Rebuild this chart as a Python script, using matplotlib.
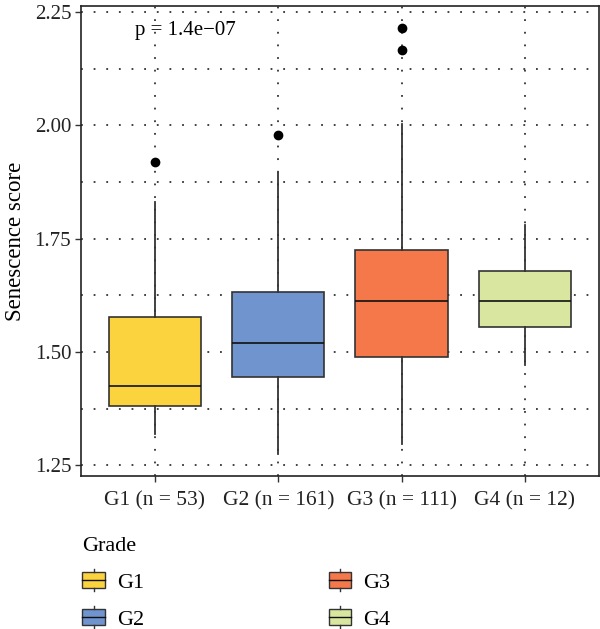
import matplotlib.pyplot as plt
from matplotlib.legend_handler import HandlerBase
from matplotlib.patches import Rectangle
from matplotlib.lines import Line2D
from matplotlib.ticker import MultipleLocator

plt.rcParams['font.family'] = ['Liberation Serif', 'DejaVu Serif']

# values
grades = ["G1", "G2", "G3", "G4"]
counts = [53, 161, 111, 12]
whislo = [1.318, 1.274, 1.296, 1.471]
q1 = [1.381, 1.444, 1.489, 1.555]
med = [1.426, 1.519, 1.612, 1.612]
q3 = [1.577, 1.633, 1.725, 1.678]
whishi = [1.831, 1.894, 2.004, 1.780]
fliers = [[1.920], [1.980], [2.216, 2.167], []]
colors = ["#FBD33E", "#7094CD", "#F5784A", "#D8E6A0"]
p_label = "p = 1.4e\u221207"

edge = "#333333"

fig = plt.figure(figsize=(6, 6.29), dpi=100)
ax = fig.add_axes([0.135, 0.243, 0.863, 0.747])

stats = []
for i in range(len(grades)):
    stats.append(dict(whislo=whislo[i], q1=q1[i], med=med[i], q3=q3[i],
                      whishi=whishi[i], fliers=fliers[i]))

positions = list(range(1, len(grades) + 1))
bp = ax.bxp(stats, positions=positions, widths=0.75, patch_artist=True,
            showcaps=False,
            boxprops=dict(edgecolor=edge, linewidth=1.2),
            whiskerprops=dict(color=edge, linewidth=1.3),
            medianprops=dict(color="#111111", linewidth=1.2),
            flierprops=dict(marker='o', markerfacecolor='black',
                            markeredgecolor='black', markersize=6))
for patch, c in zip(bp['boxes'], colors):
    patch.set_facecolor(c)
    patch.set_zorder(3)
for key in ['whiskers', 'medians', 'fliers']:
    for art in bp[key]:
        art.set_zorder(4)

ax.set_xlim(0.4, 4.6)
ax.set_ylim(1.226, 2.263)
ax.yaxis.set_minor_locator(MultipleLocator(0.125))
ax.set_yticks([1.25, 1.50, 1.75, 2.00, 2.25])
ax.set_yticklabels(["1.25", "1.50", "1.75", "2.00", "2.25"])
ax.set_xticks(positions)
ax.set_xticklabels([f"{g} (n = {n})" for g, n in zip(grades, counts)])

grid_kw = dict(color="#333333", linewidth=1.3, linestyle=(0, (1.0, 6.0)))
ax.grid(True, which='major', axis='both', **grid_kw)
ax.grid(True, which='minor', axis='y', **grid_kw)
ax.set_axisbelow(True)
ax.tick_params(axis='y', which='major', labelsize=15, length=4,
               width=1, color='#333333', labelcolor='#222222', pad=3)
ax.tick_params(axis='x', which='major', labelsize=15.5, length=4,
               width=1, color='#333333', labelcolor='#222222', pad=7)
ax.tick_params(axis='y', which='minor', length=0)
for s in ax.spines.values():
    s.set_color('#222222')
    s.set_linewidth(1.2)

ax.set_ylabel("Senescence score", fontsize=16.5, labelpad=6)
ax.text(1.25, 2.21, p_label, ha='center', va='center', fontsize=15)


class BoxKeyHandler(HandlerBase):
    def create_artists(self, legend, orig_handle, xdescent, ydescent,
                       width, height, fontsize, trans):
        w = width
        h = height
        rect = Rectangle((0, 0), w, h,
                         facecolor=orig_handle.get_facecolor(),
                         edgecolor=edge, linewidth=1.0, transform=trans)
        mid = Line2D([0, w], [0.5 * h, 0.5 * h], color='#111111',
                     linewidth=1.0, transform=trans)
        top = Line2D([w / 2, w / 2], [h, 1.2 * h], color=edge,
                     linewidth=1.0, transform=trans)
        bot = Line2D([w / 2, w / 2], [-0.2 * h, 0], color=edge,
                     linewidth=1.0, transform=trans)
        return [rect, mid, top, bot]


handles = [Rectangle((0, 0), 1, 1, facecolor=c) for c in colors]
leg = fig.legend(handles, grades, loc='upper left',
                 bbox_to_anchor=(0.122, 0.161), ncol=2, frameon=False,
                 title="Grade", fontsize=16, title_fontsize=16,
                 handler_map={Rectangle: BoxKeyHandler()},
                 handlelength=1.03, handleheight=0.72, handletextpad=0.54,
                 columnspacing=8.3, labelspacing=0.74, borderaxespad=0)
leg._legend_box.align = "left"

fig.savefig("out.png", dpi=100)
